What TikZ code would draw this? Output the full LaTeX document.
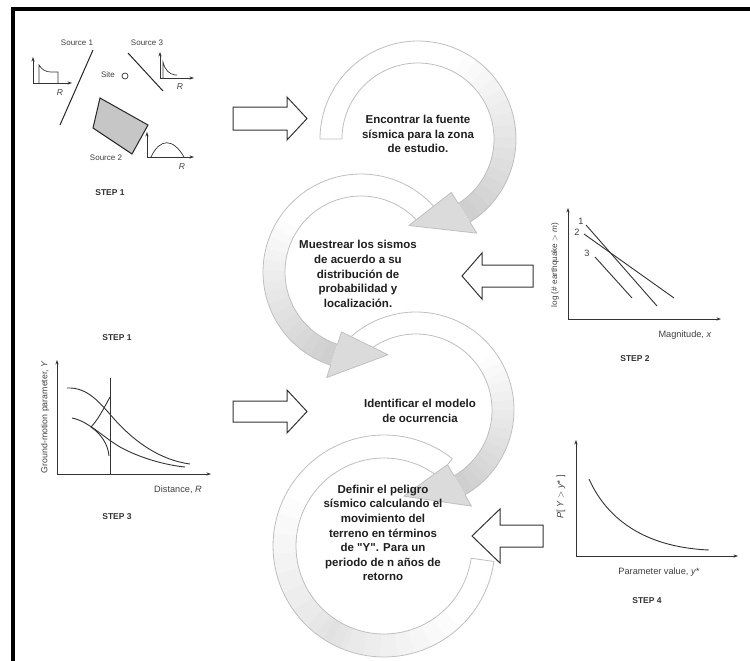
\documentclass[tikz,border=0pt]{standalone}
\usepackage{fontspec}
\setmainfont{Liberation Sans}
\newfontfamily\plainsans{Liberation Sans}
\usetikzlibrary{arrows.meta}

% ring geometry of the circular process arrows
\def\Ro{98}
\def\Ri{76}
\def\Rw{13}

% circular arrow: centre x, centre y, start angle, end angle, head sweep
\newcommand{\cyclearrow}[5]{%
  \path[fill=white] plot[domain=#3:#4,samples=90] ({#1+\Ro*cos(\x)},{#2+\Ro*sin(\x)})
     -- ({#1+(\Ro+\Rw)*cos(#4)},{#2+(\Ro+\Rw)*sin(#4)})
     -- ({#1+(\Ro+\Ri)/2*cos(#4+(#5))},{#2+(\Ro+\Ri)/2*sin(#4+(#5))})
     -- ({#1+(\Ri-\Rw)*cos(#4)},{#2+(\Ri-\Rw)*sin(#4)})
     -- plot[domain=#4:#3,samples=90] ({#1+\Ri*cos(\x)},{#2+\Ri*sin(\x)}) -- cycle;
  \foreach \k in {1,...,16}{%
    \path[fill=black,fill opacity=0.011]
      plot[domain={#4-\k*(#4-(#3))/32}:#4,samples=40] ({#1+\Ro*cos(\x)},{#2+\Ro*sin(\x)})
      -- plot[domain=#4:{#4-\k*(#4-(#3))/32},samples=40] ({#1+\Ri*cos(\x)},{#2+\Ri*sin(\x)}) -- cycle;}
  \path[fill=gray!28] ({#1+\Ro*cos(#4)},{#2+\Ro*sin(#4)})
     -- ({#1+(\Ro+\Rw)*cos(#4)},{#2+(\Ro+\Rw)*sin(#4)})
     -- ({#1+(\Ro+\Ri)/2*cos(#4+(#5))},{#2+(\Ro+\Ri)/2*sin(#4+(#5))})
     -- ({#1+(\Ri-\Rw)*cos(#4)},{#2+(\Ri-\Rw)*sin(#4)})
     -- ({#1+\Ri*cos(#4)},{#2+\Ri*sin(#4)}) -- cycle;
  \draw[ringline] plot[domain=#3:#4,samples=90] ({#1+\Ro*cos(\x)},{#2+\Ro*sin(\x)})
     -- ({#1+(\Ro+\Rw)*cos(#4)},{#2+(\Ro+\Rw)*sin(#4)})
     -- ({#1+(\Ro+\Ri)/2*cos(#4+(#5))},{#2+(\Ro+\Ri)/2*sin(#4+(#5))})
     -- ({#1+(\Ri-\Rw)*cos(#4)},{#2+(\Ri-\Rw)*sin(#4)})
     -- plot[domain=#4:#3,samples=90] ({#1+\Ri*cos(\x)},{#2+\Ri*sin(\x)}) -- cycle;
}

% plain circular band without a head
\newcommand{\cycleband}[4]{%
  \path[fill=white] plot[domain=#3:#4,samples=90] ({#1+\Ro*cos(\x)},{#2+\Ro*sin(\x)})
     -- plot[domain=#4:#3,samples=90] ({#1+\Ri*cos(\x)},{#2+\Ri*sin(\x)}) -- cycle;
  \foreach \k in {1,...,10}{%
    \path[fill=black,fill opacity=0.012]
      plot[domain={#3+(#4-(#3))*(0.30+\k*0.035)}:{#3+(#4-(#3))*(0.90-\k*0.03)},samples=40] ({#1+\Ro*cos(\x)},{#2+\Ro*sin(\x)})
      -- plot[domain={#3+(#4-(#3))*(0.90-\k*0.03)}:{#3+(#4-(#3))*(0.30+\k*0.035)},samples=40] ({#1+\Ri*cos(\x)},{#2+\Ri*sin(\x)}) -- cycle;}
  \draw[ringline] plot[domain=#3:#4,samples=90] ({#1+\Ro*cos(\x)},{#2+\Ro*sin(\x)})
     -- plot[domain=#4:#3,samples=90] ({#1+\Ri*cos(\x)},{#2+\Ri*sin(\x)}) -- cycle;
}

\begin{document}
\begin{tikzpicture}[x=1pt,y=-1pt,
  ringline/.style={draw=gray!50,line width=0.8pt,line join=round},
  ringtext/.style={font=\plainsans\fontsize{11.5}{14.6}\selectfont\bfseries,align=center,text=black!88},
  srclab/.style={font=\plainsans\fontsize{8}{9}\selectfont,text=black!75,inner sep=0pt},
  axlab/.style={font=\plainsans\fontsize{9.2}{11}\selectfont,text=black!75,inner sep=0pt},
  steplab/.style={font=\plainsans\fontsize{8.5}{10}\selectfont\bfseries,text=black!80,inner sep=0pt},
  axisline/.style={-{Stealth[length=4.5pt,width=3.2pt]},line width=0.8pt,draw=black!80},
  curveline/.style={line width=0.9pt,draw=black!80},
  blockarrow/.style={fill=white,draw=black!80,line width=1pt,line join=miter}]

\useasboundingbox (0,0) rectangle (750,661);
\fill[white] (0,0) rectangle (750,661);

% frame edges
\draw[line width=4pt] (13,661) -- (13,9.5) -- (750,9.5);

% ---- circular process arrows (drawn bottom to top) ----
{\def\Ro{111}\def\Ri{88}%
 \cycleband{384}{546}{-52}{-352}}
\cyclearrow{416}{410}{228}{420}{38}
\cyclearrow{361}{272}{-40}{-252}{-36}
\cyclearrow{418}{139}{180}{418}{38}

\node[ringtext] (t1) at (418,134) {Encontrar la fuente\\sísmica para la zona\\de estudio.};
\node[ringtext] (t2) at (358,274) {Muestrear los sismos\\de acuerdo a su\\distribución de\\probabilidad y\\localización.};
\node[ringtext] (t3) at (420,411) {Identificar el modelo\\de ocurrencia};
\node[ringtext] (t4) at (383,533) {Definir el peligro\\sísmico calculando el\\movimiento del\\terreno en términos\\de "Y". Para un\\periodo de n años de\\retorno};

% ---- block arrows ----
\draw[blockarrow] (233,107) -- (287,107) -- (287,97) -- (307,118.5) -- (287,140) -- (287,130) -- (233,130) -- cycle;
\draw[blockarrow] (533,265) -- (482,265) -- (482,253) -- (462,276) -- (482,299) -- (482,287) -- (533,287) -- cycle;
\draw[blockarrow] (233,401) -- (287,401) -- (287,390) -- (307,411.5) -- (287,433) -- (287,422) -- (233,422) -- cycle;
\draw[blockarrow] (543,525) -- (500,525) -- (500,509) -- (472,536) -- (500,563) -- (500,547) -- (543,547) -- cycle;

% ---- STEP 1: sources and site ----
\node[srclab] (s1) at (77,43) {Source 1};
\draw[line width=1pt,black!85] (93,50) -- (60,125);
\draw[axisline] (33,83) -- (33,57);
\draw[axisline] (33,83) -- (72,83);
\draw[curveline,line width=0.7pt] (39,83) -- (39,65) .. controls (42,70) and (46,72) .. (51,72) -- (58,72) -- (58,83);
\node[srclab,font=\plainsans\fontsize{8.5}{9}\selectfont\itshape] (r1) at (60,93) {R};

\node[srclab] (site) at (108,75) {Site};
\draw[line width=0.7pt,black!80] (125,76) circle (3);

\node[srclab] (s3) at (147,43) {Source 3};
\draw[line width=1pt,black!85] (128,53) -- (163,91);
\draw[axisline] (160,78) -- (160,52);
\draw[axisline] (160,78) -- (194,78);
\draw[curveline,line width=0.7pt] (163,78) -- (163,62) .. controls (165,70) and (169,74) .. (175,75) -- (177,75);
\node[srclab,font=\plainsans\fontsize{8.5}{9}\selectfont\itshape] (r3) at (180,87) {R};

\filldraw[fill=gray!45,draw=black!85,line width=1pt] (100,98) -- (148,125) -- (132,154) -- (93,128) -- cycle;
\node[srclab] (s2) at (106,158) {Source 2};
\draw[axisline] (147,157) -- (147,132);
\draw[axisline] (147,157) -- (194,157);
\draw[curveline,line width=0.7pt] (151,157) .. controls (160,138) and (173,138) .. (184,157);
\node[srclab,font=\plainsans\fontsize{8.5}{9}\selectfont\itshape] (r2) at (182,167) {R};

\node[steplab] (st1a) at (110,193) {STEP 1};

% ---- STEP 2: recurrence laws ----
\draw[axisline] (568,319) -- (568,208);
\draw[axisline] (568,319) -- (721,319);
\node[axlab,rotate=90,font=\plainsans\fontsize{8.2}{9}\selectfont] (ylab2) at (555,265) {log (\# earthquake $>$ \textit{m})};
\draw[curveline] (586,225) -- (657,306);
\draw[curveline] (584,234) -- (674,298);
\draw[curveline] (595,257) -- (632,298);
\node[axlab] (n1) at (581,221) {1};
\node[axlab] (n2) at (577,232) {2};
\node[axlab] (n3) at (587,253) {3};
\node[axlab] (xlab2) at (685,335) {Magnitude, \textit{x}};
\node[steplab] (st2) at (635,359) {STEP 2};

% ---- STEP 1 / STEP 3: attenuation ----
\node[steplab] (st1b) at (117,338) {STEP 1};
\draw[axisline] (57,474) -- (57,360);
\draw[axisline] (57,474) -- (211,474);
\node[axlab,rotate=90,font=\plainsans\fontsize{8.8}{9}\selectfont] (ylab3) at (45,417) {Ground-motion parameter, \textit{Y}};
\draw[curveline] (110,378) -- (110,474);
\draw[curveline] (67,388) .. controls (88,387) and (100,403) .. (115,420) .. controls (135,442) and (160,460) .. (190,464);
\draw[curveline] (72,418) .. controls (88,421) and (103,437) .. (120,447) .. controls (140,458) and (165,465) .. (185,467);
\draw[curveline] (110,397) .. controls (103,410) and (97,421) .. (91,427) .. controls (101,434) and (108,444) .. (109,456);
\node[axlab] (xlab3) at (178,490) {Distance, \textit{R}};
\node[steplab] (st3) at (117,517) {STEP 3};

% ---- STEP 4: hazard curve ----
\draw[axisline] (576,556) -- (576,440);
\draw[axisline] (576,556) -- (738,556);
\node[axlab,rotate=90] (ylab4) at (561,497) {\textit{P}[ \textit{Y} $>$ \textit{y*} ]};
\draw[curveline] (589,479) .. controls (605,515) and (640,547) .. (709,550);
\node[axlab] (xlab4) at (659,572) {Parameter value, \textit{y*}};
\node[steplab] (st4) at (647,601) {STEP 4};

\end{tikzpicture}
\end{document}
